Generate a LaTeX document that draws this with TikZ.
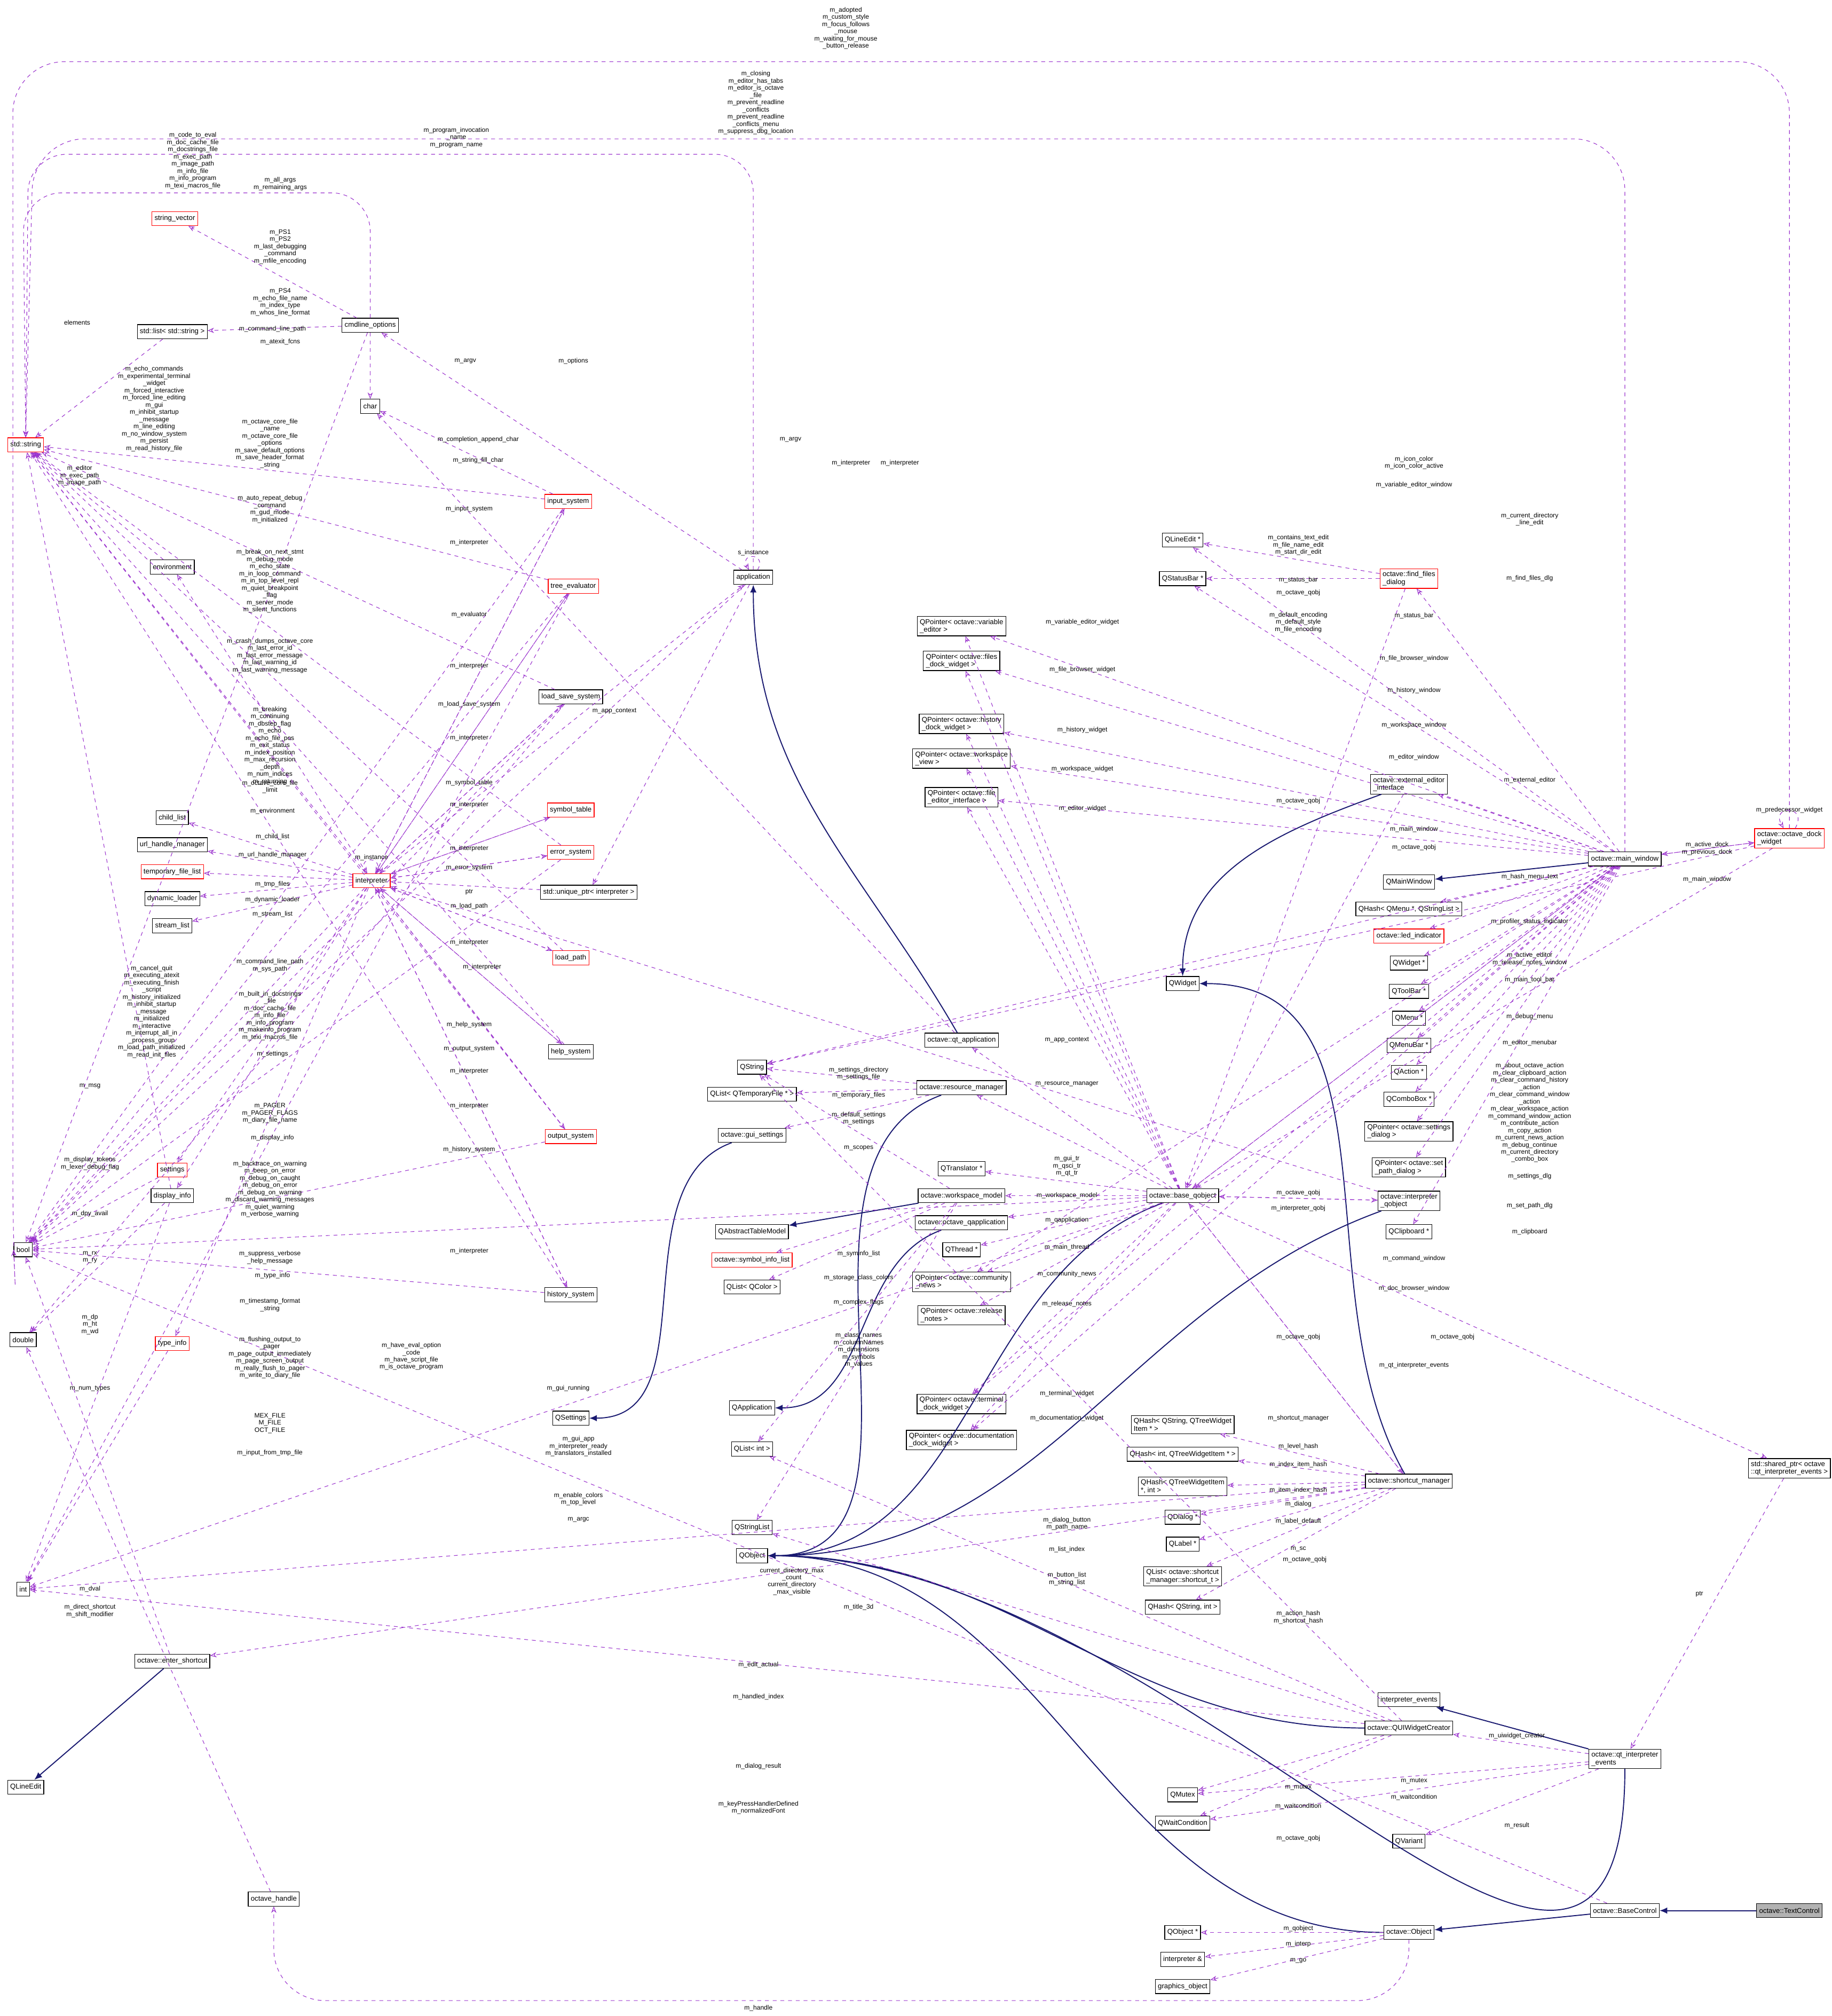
\documentclass[tikz,border=0pt]{standalone}
\usepackage{fontspec}
\setmainfont{Liberation Sans}
\usetikzlibrary{arrows.meta}
\definecolor{dep}{HTML}{9A32CD}
\definecolor{inhc}{HTML}{191970}
\tikzset{
 box/.style={draw=black,fill=white,font=\fontsize{5.5}{6}\selectfont,inner sep=2pt,minimum height=11pt,line width=0.5pt},
 rbox/.style={box,draw=red},
 gbox/.style={box,fill=gray!60},
 lbl/.style={font=\fontsize{5}{5.6}\selectfont,inner sep=0pt,align=center},
 dep/.style={draw=dep,dashed,line width=0.45pt,-{Stealth[open,length=5pt,width=4pt]}},
 inh/.style={draw=inhc,line width=0.8pt,-{Latex[length=6pt,width=5pt]}},
}
\newcommand{\lab}[3]{\node[lbl] at (#1,#2) {#3};}
\begin{document}
\begin{tikzpicture}[x=1pt,y=-1pt]
\useasboundingbox (0,0) rectangle (1425,1568);
% ---------- nodes ----------
\node[rbox] (str) at (20,346) {std::string};
\node[rbox] (sv) at (136,170) {string\_vector};
\node[box] (lst) at (134,258) {std::list< std::string >};
\node[box] (cmd) at (288,253) {cmdline\_options};
\node[box] (chr) at (288,316) {char};
\node[box] (env) at (134,441) {environment};
\node[rbox] (inp) at (442,390) {input\_system};
\node[rbox] (tree) at (446,456) {tree\_evaluator};
\node[box] (app) at (586,449) {application};
\node[box] (lss) at (444,542) {load\_save\_system};
\node[box] (chl) at (134,636) {child\_list};
\node[box] (uhm) at (134,657) {url\_handle\_manager};
\node[rbox] (tfl) at (134,678) {temporary\_file\_list};
\node[box] (dyn) at (134,699) {dynamic\_loader};
\node[box] (stl) at (134,720) {stream\_list};
\node[rbox] (intp) at (289,685) {interpreter};
\node[rbox] (symt) at (444,630) {symbol\_table};
\node[rbox] (errs) at (444,663) {error\_system};
\node[box] (uptr) at (458,694) {std::unique\_ptr< interpreter >};
\node[rbox] (lpath) at (444,745) {load\_path};
\node[box] (help) at (444,818) {help\_system};
\node[rbox] (outs) at (444,884) {output\_system};
\node[rbox] (sett) at (134,910) {settings};
\node[box] (disp) at (134,930) {display\_info};
\node[box] (bool) at (18,972) {bool};
\node[box] (dbl) at (18,1042) {double};
\node[rbox] (tinfo) at (134,1045) {type\_info};
\node[box] (hist) at (444,1007) {history\_system};
\node[box] (int) at (18,1236) {int};
\node[box] (esc) at (134,1292) {octave::enter\_shortcut};
\node[box] (qle) at (20,1390) {QLineEdit};
\node[box] (ohd) at (213,1477) {octave\_handle};
\node[box] (qset) at (444,1103) {QSettings};
\node[box] (qstr) at (585,830) {QString};
\node[box] (qltf) at (585,851) {QList< QTemporaryFile * >};
\node[box] (gset) at (585,883) {octave::gui\_settings};
\node[box] (qatm) at (585,958) {QAbstractTableModel};
\node[rbox] (sil) at (585,980) {octave::symbol\_info\_list};
\node[box] (qlc) at (585,1001) {QList< QColor >};
\node[box] (qapp) at (585,1095) {QApplication};
\node[box] (qli) at (585,1127) {QList< int >};
\node[box] (qsl) at (585,1188) {QStringList};
\node[box] (qobj) at (585,1210) {QObject};
\node[box] (qtapp) at (748,809) {octave::qt\_application};
\node[box] (rman) at (748,846) {octave::resource\_manager};
\node[box] (qtr) at (748,909) {QTranslator *};
\node[box] (wsm) at (748,930) {octave::workspace\_model};
\node[box] (oqa) at (748,951) {octave::octave\_qapplication};
\node[box] (qth) at (748,972) {QThread *};
\node[box,align=left] (pcn) at (748,997) {QPointer< octave::community\\\_news >};
\node[box,align=left] (prn) at (748,1023) {QPointer< octave::release\\\_notes >};
\node[box,align=left] (ptd) at (748,1092) {QPointer< octave::terminal\\\_dock\_widget >};
\node[box,align=left] (pdd) at (748,1120) {QPointer< octave::documentation\\\_dock\_widget >};
\node[box,align=left] (pve) at (748,487) {QPointer< octave::variable\\\_editor >};
\node[box,align=left] (pfd) at (748,514) {QPointer< octave::files\\\_dock\_widget >};
\node[box,align=left] (phd) at (748,563) {QPointer< octave::history\\\_dock\_widget >};
\node[box,align=left] (pwv) at (748,590) {QPointer< octave::workspace\\\_view >};
\node[box,align=left] (pfe) at (748,620) {QPointer< octave::file\\\_editor\_interface >};
\node[box] (bq) at (920,930) {octave::base\_qobject};
\node[box] (qw) at (920,765) {QWidget};
\node[box,align=left] (eei) at (1096,610) {octave::external\_editor\\\_interface};
\node[box,align=left] (iqo) at (1096,934) {octave::interpreter\\\_qobject};
\node[box] (qlep) at (920,420) {QLineEdit *};
\node[box] (qsb) at (920,450) {QStatusBar *};
\node[rbox,align=left] (ffd) at (1096,450) {octave::find\_files\\\_dialog};
\node[box] (mw) at (1264,668) {octave::main\_window};
\node[rbox,align=left] (odw) at (1392,652) {octave::octave\_dock\\\_widget};
\node[box] (qmw) at (1096,686) {QMainWindow};
\node[box] (qhm) at (1096,707) {QHash< QMenu *, QStringList >};
\node[rbox] (led) at (1096,728) {octave::led\_indicator};
\node[box] (qwp) at (1096,749) {QWidget *};
\node[box] (qtb) at (1096,771) {QToolBar *};
\node[box] (qm) at (1096,792) {QMenu *};
\node[box] (qmb) at (1096,813) {QMenuBar *};
\node[box] (qa) at (1096,834) {QAction *};
\node[box] (qcb) at (1096,855) {QComboBox *};
\node[box,align=left] (psd) at (1096,880) {QPointer< octave::settings\\\_dialog >};
\node[box,align=left] (pspd) at (1096,908) {QPointer< octave::set\\\_path\_dialog >};
\node[box] (qcl) at (1096,958) {QClipboard *};
\node[box,align=left] (sptr) at (1392,1142) {std::shared\_ptr< octave\\::qt\_interpreter\_events >};
\node[box,align=left] (qh1) at (920,1108) {QHash< QString, QTreeWidget\\Item * >};
\node[box] (qh2) at (920,1131) {QHash< int, QTreeWidgetItem * >};
\node[box,align=left] (qh3) at (920,1156) {QHash< QTreeWidgetItem\\*, int >};
\node[box] (qdlg) at (920,1180) {QDialog *};
\node[box] (qlab) at (920,1201) {QLabel *};
\node[box,align=left] (qlsc) at (920,1226) {QList< octave::shortcut\\\_manager::shortcut\_t >};
\node[box] (qh4) at (920,1250) {QHash< QString, int >};
\node[box] (scm) at (1096,1152) {octave::shortcut\_manager};
\node[box] (ie) at (1096,1322) {interpreter\_events};
\node[box] (quw) at (1096,1344) {octave::QUIWidgetCreator};
\node[box,align=left] (qie) at (1264,1368) {octave::qt\_interpreter\\\_events};
\node[box] (qmx) at (920,1396) {QMutex};
\node[box] (qwc) at (920,1418) {QWaitCondition};
\node[box] (qvar) at (1096,1432) {QVariant};
\node[box] (bc) at (1264,1486) {octave::BaseControl};
\node[gbox] (tc) at (1392,1486) {octave::TextControl};
\node[box] (obj) at (1096,1503) {octave::Object};
\node[box] (qobp) at (920,1503) {QObject *};
\node[box] (iref) at (920,1524) {interpreter \&};
\node[box] (gobj) at (920,1545) {graphics\_object};
% ---------- inheritance ----------
\draw[inh] (tc) -- (bc);
\draw[inh] (bc) -- (obj);
\draw[inh] (obj) to[out=180,in=0] (qobj);
\draw[inh] (qie) -- (ie);
\draw[inh] (qie) to[out=270,in=0,looseness=1.2] (qobj);
\draw[inh] (quw) to[out=180,in=0] (qobj);
\draw[inh] (scm) to[out=120,in=0] (qw);
\draw[inh] (eei) to[out=200,in=90] (qw);
\draw[inh] (mw) -- (qmw);
\draw[inh] (bq) to[out=200,in=0] (qobj);
\draw[inh] (iqo) to[out=200,in=0] (qobj);
\draw[inh] (rman) to[out=200,in=0] (qobj);
\draw[inh] (qtapp) to[out=120,in=270] (app);
\draw[inh] (oqa) to[out=200,in=0] (qapp);
\draw[inh] (wsm) -- (qatm);
\draw[inh] (gset) to[out=200,in=0] (qset);
\draw[inh] (esc) -- (qle);
% ---------- dependencies ----------
\foreach \a/\b in {intp/env,intp/chl,intp/uhm,intp/tfl,intp/dyn,intp/stl,intp/sett,intp/disp,intp/tinfo,
 intp/inp,intp/tree,intp/lss,intp/symt,intp/errs,intp/lpath,intp/help,intp/outs,intp/hist,intp/app,intp/bool,intp/str,
 inp/intp,tree/intp,lss/intp,symt/intp,errs/intp,lpath/intp,help/intp,outs/intp,hist/intp,uptr/intp,
 app/uptr,app/cmd,app/bool,cmd/sv,cmd/lst,cmd/chr,cmd/bool,lst/str,env/str,
 inp/str,inp/chr,inp/bool,tree/str,tree/bool,tree/int,lss/str,lss/bool,lss/dbl,errs/str,errs/bool,lpath/str,help/str,
 outs/str,outs/bool,sett/bool,disp/str,disp/dbl,disp/int,tinfo/int,hist/str,hist/bool,esc/bool,ohd/dbl,
 obj/qobp,obj/iref,obj/gobj,bc/bool,qie/quw,qie/qmx,qie/qwc,qie/qvar,sptr/qie,bq/sptr,
 quw/qmx,quw/qwc,quw/int,quw/qsl,quw/qli,quw/qstr,
 scm/qh1,scm/qh2,scm/qh3,scm/qdlg,scm/qlab,scm/qlsc,scm/qh4,scm/esc,scm/int,scm/bq,bq/scm,
 bq/qtapp,bq/rman,bq/qtr,bq/wsm,bq/oqa,bq/qth,bq/pcn,bq/prn,bq/ptd,bq/pdd,bq/pve,bq/pfd,bq/phd,bq/pwv,bq/pfe,
 bq/iqo,iqo/bq,bq/mw,bq/bool,bq/int,iqo/intp,qtapp/chr,
 rman/qstr,rman/qltf,rman/gset,wsm/sil,wsm/qlc,wsm/qsl,wsm/qli,wsm/qstr,
 mw/qlep,mw/ffd,mw/qsb,mw/pve,mw/pfd,mw/phd,mw/pwv,mw/pfe,mw/eei,mw/qhm,mw/led,mw/qwp,mw/qtb,mw/qm,mw/qmb,mw/qa,mw/qcb,
 mw/psd,mw/pspd,mw/qcl,mw/pcn,mw/ptd,mw/pdd,mw/odw,mw/qstr,mw/bq,
 odw/mw,odw/qstr,odw/bq,ffd/qlep,ffd/qsb,ffd/bq,eei/bq}
 {\draw[dep] (\a) -- (\b);}
% long arcs
\draw[dep,rounded corners=40] (odw.north) -- (1392,48) -- (10,48) -- (10,960) -- (bool.west);
\draw[dep,rounded corners=40] (mw.north) -- (1264,108) -- (26,108) -- (str.north);
\draw[dep,rounded corners=30] (cmd.north) -- (288,150) -- (18,150) -- (str.north);
\draw[dep,rounded corners=30] (app.north) -- (586,120) -- (22,120) -- (str.north);
\draw[dep,rounded corners=40] (obj.south) -- (1096,1556) -- (213,1556) -- (ohd.south);
\draw[dep] (intp) to[out=60,in=120,looseness=6] (intp);
\draw[dep] (app) to[out=60,in=120,looseness=6] (app);
\draw[dep] (odw) to[out=60,in=120,looseness=6] (odw);
% ---------- labels ----------
\lab{658}{22}{m\_adopted\\m\_custom\_style\\m\_focus\_follows\\\_mouse\\m\_waiting\_for\_mouse\\\_button\_release}
\lab{588}{80}{m\_closing\\m\_editor\_has\_tabs\\m\_editor\_is\_octave\\\_file\\m\_prevent\_readline\\\_conflicts\\m\_prevent\_readline\\\_conflicts\_menu\\m\_suppress\_dbg\_location}
\lab{150}{125}{m\_code\_to\_eval\\m\_doc\_cache\_file\\m\_docstrings\_file\\m\_exec\_path\\m\_image\_path\\m\_info\_file\\m\_info\_program\\m\_texi\_macros\_file}
\lab{355}{107}{m\_program\_invocation\\\_name\\m\_program\_name}
\lab{218}{143}{m\_all\_args\\m\_remaining\_args}
\lab{218}{192}{m\_PS1\\m\_PS2\\m\_last\_debugging\\\_command\\m\_mfile\_encoding}
\lab{218}{235}{m\_PS4\\m\_echo\_file\_name\\m\_index\_type\\m\_whos\_line\_format}
\lab{60}{251}{elements}
\lab{212}{256}{m\_command\_line\_path}
\lab{218}{266}{m\_atexit\_fcns}
\lab{120}{318}{m\_echo\_commands\\m\_experimental\_terminal\\\_widget\\m\_forced\_interactive\\m\_forced\_line\_editing\\m\_gui\\m\_inhibit\_startup\\\_message\\m\_line\_editing\\m\_no\_window\_system\\m\_persist\\m\_read\_history\_file}
\lab{362}{281}{m\_argv}
\lab{446}{281}{m\_options}
\lab{372}{342}{m\_completion\_append\_char}
\lab{372}{358}{m\_string\_fill\_char}
\lab{615}{342}{m\_argv}
\lab{662}{360}{m\_interpreter}
\lab{62}{370}{m\_editor\\m\_exec\_path\\m\_image\_path}
\lab{210}{345}{m\_octave\_core\_file\\\_name\\m\_octave\_core\_file\\\_options\\m\_save\_default\_options\\m\_save\_header\_format\\\_string}
\lab{210}{396}{m\_auto\_repeat\_debug\\\_command\\m\_gud\_mode\\m\_initialized}
\lab{365}{396}{m\_input\_system}
\lab{365}{422}{m\_interpreter}
\lab{210}{452}{m\_break\_on\_next\_stmt\\m\_debug\_mode\\m\_echo\_state\\m\_in\_loop\_command\\m\_in\_top\_level\_repl\\m\_quiet\_breakpoint\\\_flag\\m\_server\_mode\\m\_silent\_functions}
\lab{365}{478}{m\_evaluator}
\lab{210}{510}{m\_crash\_dumps\_octave\_core\\m\_last\_error\_id\\m\_last\_error\_message\\m\_last\_warning\_id\\m\_last\_warning\_message}
\lab{365}{518}{m\_interpreter}
\lab{210}{580}{m\_breaking\\m\_continuing\\m\_dbstep\_flag\\m\_echo\\m\_echo\_file\_pos\\m\_exit\_status\\m\_index\_position\\m\_max\_recursion\\\_depth\\m\_num\_indices\\m\_returning}
\lab{365}{548}{m\_load\_save\_system}
\lab{478}{553}{m\_app\_context}
\lab{365}{574}{m\_interpreter}
\lab{210}{612}{m\_octave\_core\_file\\\_limit}
\lab{365}{609}{m\_symbol\_table}
\lab{365}{626}{m\_interpreter}
\lab{212}{631}{m\_environment}
\lab{212}{651}{m\_child\_list}
\lab{212}{665}{m\_url\_handle\_manager}
\lab{289}{667}{m\_instance}
\lab{365}{660}{m\_interpreter}
\lab{365}{675}{m\_error\_system}
\lab{212}{688}{m\_tmp\_files}
\lab{365}{694}{ptr}
\lab{212}{700}{m\_dynamic\_loader}
\lab{212}{711}{m\_stream\_list}
\lab{365}{705}{m\_load\_path}
\lab{365}{733}{m\_interpreter}
\lab{375}{752}{m\_interpreter}
\lab{118}{787}{m\_cancel\_quit\\m\_executing\_atexit\\m\_executing\_finish\\\_script\\m\_history\_initialized\\m\_inhibit\_startup\\\_message\\m\_initialized\\m\_interactive\\m\_interrupt\_all\_in\\\_process\_group\\m\_load\_path\_initialized\\m\_read\_init\_files}
\lab{210}{751}{m\_command\_line\_path\\m\_sys\_path}
\lab{210}{790}{m\_built\_in\_docstrings\\\_file\\m\_doc\_cache\_file\\m\_info\_file\\m\_info\_program\\m\_makeinfo\_program\\m\_texi\_macros\_file}
\lab{365}{797}{m\_help\_system}
\lab{365}{816}{m\_output\_system}
\lab{212}{820}{m\_settings}
\lab{365}{833}{m\_interpreter}
\lab{70}{845}{m\_msg}
\lab{210}{866}{m\_PAGER\\m\_PAGER\_FLAGS\\m\_diary\_file\_name}
\lab{212}{885}{m\_display\_info}
\lab{365}{860}{m\_interpreter}
\lab{70}{905}{m\_display\_tokens\\m\_lexer\_debug\_flag}
\lab{365}{894}{m\_history\_system}
\lab{210}{925}{m\_backtrace\_on\_warning\\m\_beep\_on\_error\\m\_debug\_on\_caught\\m\_debug\_on\_error\\m\_debug\_on\_warning\\m\_discard\_warning\_messages\\m\_quiet\_warning\\m\_verbose\_warning}
\lab{70}{944}{m\_dpy\_avail}
\lab{210}{978}{m\_suppress\_verbose\\\_help\_message}
\lab{365}{973}{m\_interpreter}
\lab{70}{978}{m\_rx\\m\_ry}
\lab{212}{992}{m\_type\_info}
\lab{70}{1030}{m\_dp\\m\_ht\\m\_wd}
\lab{210}{1015}{m\_timestamp\_format\\\_string}
\lab{210}{1056}{m\_flushing\_output\_to\\\_pager\\m\_page\_output\_immediately\\m\_page\_screen\_output\\m\_really\_flush\_to\_pager\\m\_write\_to\_diary\_file}
\lab{320}{1055}{m\_have\_eval\_option\\\_code\\m\_have\_script\_file\\m\_is\_octave\_program}
\lab{70}{1080}{m\_num\_types}
\lab{210}{1107}{MEX\_FILE\\M\_FILE\\OCT\_FILE}
\lab{210}{1130}{m\_input\_from\_tmp\_file}
\lab{450}{1125}{m\_gui\_app\\m\_interpreter\_ready\\m\_translators\_installed}
\lab{442}{1080}{m\_gui\_running}
\lab{450}{1166}{m\_enable\_colors\\m\_top\_level}
\lab{450}{1182}{m\_argc}
\lab{70}{1253}{m\_direct\_shortcut\\m\_shift\_modifier}
\lab{70}{1236}{m\_dval}
\lab{590}{1295}{m\_edit\_actual}
\lab{590}{1320}{m\_handled\_index}
\lab{590}{1374}{m\_dialog\_result}
\lab{590}{1406}{m\_keyPressHandlerDefined\\m\_normalizedFont}
\lab{590}{1562}{m\_handle}
\lab{586}{430}{s\_instance}
\lab{668}{835}{m\_settings\_directory\\m\_settings\_file}
\lab{668}{852}{m\_temporary\_files}
\lab{668}{870}{m\_default\_settings\\m\_settings}
\lab{668}{893}{m\_scopes}
\lab{668}{975}{m\_syminfo\_list}
\lab{668}{994}{m\_storage\_class\_colors}
\lab{668}{1013}{m\_complex\_flags}
\lab{668}{1050}{m\_class\_names\\m\_columnNames\\m\_dimensions\\m\_symbols\\m\_values}
\lab{616}{1230}{current\_directory\_max\\\_count\\current\_directory\\\_max\_visible}
\lab{668}{1250}{m\_title\_3d}
\lab{830}{1185}{m\_dialog\_button\\m\_path\_name}
\lab{830}{1205}{m\_list\_index}
\lab{830}{1228}{m\_button\_list\\m\_string\_list}
\lab{830}{809}{m\_app\_context}
\lab{830}{843}{m\_resource\_manager}
\lab{830}{907}{m\_gui\_tr\\m\_qsci\_tr\\m\_qt\_tr}
\lab{830}{930}{m\_workspace\_model}
\lab{830}{949}{m\_qapplication}
\lab{830}{970}{m\_main\_thread}
\lab{830}{991}{m\_community\_news}
\lab{830}{1014}{m\_release\_notes}
\lab{830}{1084}{m\_terminal\_widget}
\lab{830}{1103}{m\_documentation\_widget}
\lab{842}{484}{m\_variable\_editor\_widget}
\lab{842}{521}{m\_file\_browser\_widget}
\lab{842}{568}{m\_history\_widget}
\lab{842}{598}{m\_workspace\_widget}
\lab{842}{629}{m\_editor\_widget}
\lab{1010}{461}{m\_octave\_qobj}
\lab{1010}{623}{m\_octave\_qobj}
\lab{1010}{928}{m\_octave\_qobj}
\lab{1010}{1040}{m\_octave\_qobj}
\lab{1130}{1040}{m\_octave\_qobj}
\lab{1015}{1213}{m\_octave\_qobj}
\lab{1010}{940}{m\_interpreter\_qobj}
\lab{1100}{360}{m\_icon\_color\\m\_icon\_color\_active}
\lab{700}{360}{m\_interpreter}
\lab{1100}{377}{m\_variable\_editor\_window}
\lab{1190}{404}{m\_current\_directory\\\_line\_edit}
\lab{1010}{424}{m\_contains\_text\_edit\\m\_file\_name\_edit\\m\_start\_dir\_edit}
\lab{1190}{450}{m\_find\_files\_dlg}
\lab{1010}{451}{m\_status\_bar}
\lab{1010}{484}{m\_default\_encoding\\m\_default\_style\\m\_file\_encoding}
\lab{1100}{479}{m\_status\_bar}
\lab{1100}{512}{m\_file\_browser\_window}
\lab{1100}{537}{m\_history\_window}
\lab{1100}{564}{m\_workspace\_window}
\lab{1100}{589}{m\_editor\_window}
\lab{1190}{607}{m\_external\_editor}
\lab{1100}{645}{m\_main\_window}
\lab{1100}{659}{m\_octave\_qobj}
\lab{1328}{660}{m\_active\_dock\\m\_previous\_dock}
\lab{1392}{630}{m\_predecessor\_widget}
\lab{1328}{684}{m\_main\_window}
\lab{1190}{682}{m\_hash\_menu\_text}
\lab{1190}{717}{m\_profiler\_status\_indicator}
\lab{1190}{746}{m\_active\_editor\\m\_release\_notes\_window}
\lab{1190}{762}{m\_main\_tool\_bar}
\lab{1190}{791}{m\_debug\_menu}
\lab{1190}{811}{m\_editor\_menubar}
\lab{1190}{860}{m\_about\_octave\_action\\m\_clear\_clipboard\_action\\m\_clear\_command\_history\\\_action\\m\_clear\_command\_window\\\_action\\m\_clear\_workspace\_action\\m\_command\_window\_action\\m\_contribute\_action\\m\_copy\_action\\m\_current\_news\_action\\m\_debug\_continue}
\lab{1190}{899}{m\_current\_directory\\\_combo\_box}
\lab{1190}{915}{m\_settings\_dlg}
\lab{1190}{938}{m\_set\_path\_dlg}
\lab{1190}{958}{m\_clipboard}
\lab{1100}{979}{m\_command\_window}
\lab{1100}{1002}{m\_doc\_browser\_window}
\lab{1100}{1062}{m\_qt\_interpreter\_events}
\lab{1322}{1240}{ptr}
\lab{1010}{1103}{m\_shortcut\_manager}
\lab{1010}{1125}{m\_level\_hash}
\lab{1010}{1139}{m\_index\_item\_hash}
\lab{1010}{1159}{m\_item\_index\_hash}
\lab{1010}{1170}{m\_dialog}
\lab{1010}{1183}{m\_label\_default}
\lab{1010}{1205}{m\_sc}
\lab{1010}{1258}{m\_action\_hash\\m\_shortcut\_hash}
\lab{1180}{1350}{m\_uiwidget\_creator}
\lab{1010}{1390}{m\_mutex}
\lab{1010}{1405}{m\_waitcondition}
\lab{1100}{1385}{m\_mutex}
\lab{1100}{1398}{m\_waitcondition}
\lab{1180}{1420}{m\_result}
\lab{1010}{1430}{m\_octave\_qobj}
\lab{1010}{1500}{m\_qobject}
\lab{1010}{1512}{m\_interp}
\lab{1010}{1525}{m\_go}
\end{tikzpicture}
\end{document}
